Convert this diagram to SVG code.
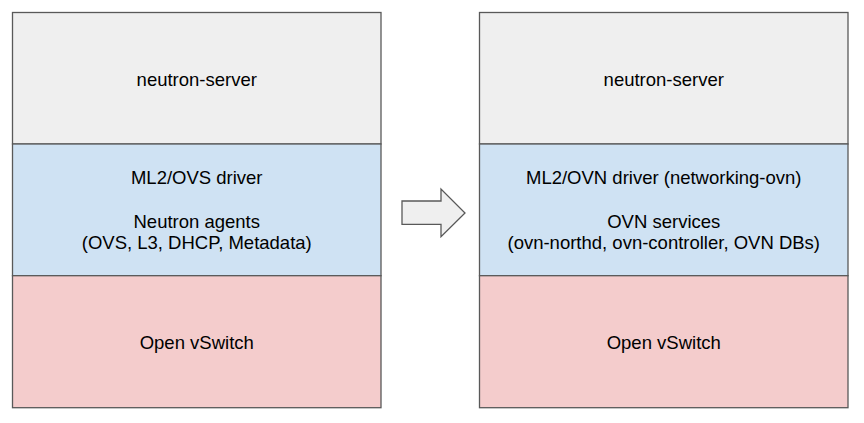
<svg xmlns="http://www.w3.org/2000/svg" width="864" height="423" viewBox="0 0 864 423">
<style>
.box{stroke:#595959;stroke-width:1.3}
.g{fill:#efefef}.b{fill:#cfe2f3}.p{fill:#f4cccc}
text{font-family:"Liberation Sans",Arial,sans-serif;font-size:18.5px;fill:#000;text-anchor:middle}
</style>
<rect width="864" height="423" fill="#fff"/>
<g id="left-server"><rect class="box g" x="12.5" y="12.5" width="368.5" height="131.5"/><text x="196.75" y="85.7">neutron-server</text></g>
<g id="left-driver"><rect class="box b" x="12.5" y="144" width="368.5" height="131.7"/><text x="196.75" y="184">ML2/OVS driver</text><text x="196.75" y="228.3">Neutron agents</text><text x="196.75" y="249.3">(OVS, L3, DHCP, Metadata)</text></g>
<g id="left-ovs"><rect class="box p" x="12.5" y="275.7" width="368.5" height="132"/><text x="196.75" y="349.3">Open vSwitch</text></g>
<g id="right-server"><rect class="box g" x="479.5" y="12.5" width="368.5" height="131.5"/><text x="663.75" y="85.7">neutron-server</text></g>
<g id="right-driver"><rect class="box b" x="479.5" y="144" width="368.5" height="131.7"/><text x="663.75" y="184">ML2/OVN driver (networking-ovn)</text><text x="663.75" y="228.3">OVN services</text><text x="663.75" y="249.3">(ovn-northd, ovn-controller, OVN DBs)</text></g>
<g id="right-ovs"><rect class="box p" x="479.5" y="275.7" width="368.5" height="132"/><text x="663.75" y="349.3">Open vSwitch</text></g>
<g id="connectors"><polygon points="402,201 441,201 441,189 465,213 441,236.7 441,224.3 402,224.3" fill="#efefef" stroke="#595959" stroke-width="1.3"/></g>
</svg>
